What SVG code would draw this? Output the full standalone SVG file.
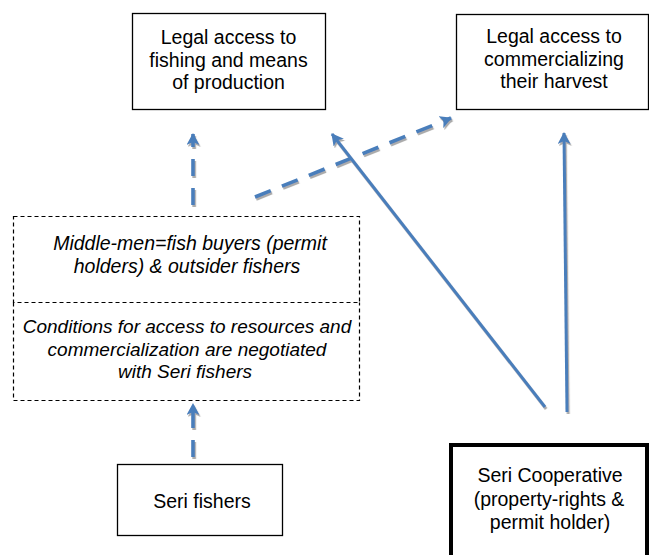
<svg xmlns="http://www.w3.org/2000/svg" width="649" height="555" viewBox="0 0 649 555">
<style>
.box{fill:#fff;stroke:#000;stroke-width:1.3}
.dbox{fill:none;stroke:#000;stroke-width:1.2;stroke-dasharray:4 3}
.t{font-family:"Liberation Sans",Arial,sans-serif;font-size:19.5px;fill:#000;text-anchor:middle}
.i{font-style:italic}
.s{font-size:19px}
.c{fill:none;stroke:#4a7ebb;stroke-width:3}
.d{stroke-width:3.6;stroke-dasharray:17 12}
</style>
<defs>
<marker id="ah" markerUnits="userSpaceOnUse" markerWidth="13" markerHeight="13" refX="11" refY="6.5" orient="auto">
<path d="M0,0 L12,6.5 L0,13 L3,6.5 z" fill="#4a7ebb"/>
</marker>
<filter id="sh" x="-20%" y="-20%" width="140%" height="140%">
<feDropShadow dx="1.2" dy="2" stdDeviation="0.6" flood-color="#888" flood-opacity="0.7"/>
</filter>
</defs>
<rect width="649" height="555" fill="#fff"/>
<g id="legal-fishing">
<rect class="box" x="132.5" y="13.5" width="193" height="96"/>
<text class="t" x="228.5" y="44">Legal access to</text>
<text class="t" x="228.5" y="66.5">fishing and means</text>
<text class="t" x="228.5" y="89">of production</text>
</g>
<g id="legal-commercial">
<rect class="box" x="456.5" y="14.5" width="192" height="95"/>
<text class="t" x="554" y="43">Legal access to</text>
<text class="t" x="554" y="65.5">commercializing</text>
<text class="t" x="554" y="88">their harvest</text>
</g>
<g id="middlemen">
<rect class="dbox" x="13.5" y="216.5" width="346" height="86"/>
<text class="t i" x="190" y="250">Middle-men=fish buyers (permit</text>
<text class="t i" x="187" y="273">holders) &amp; outsider fishers</text>
</g>
<g id="conditions">
<path class="dbox" d="M13.5,302.5 V400.5 H359.5 V302.5"/>
<text class="t i s" x="187" y="333">Conditions for access to resources and</text>
<text class="t i s" x="187" y="356">commercialization are negotiated</text>
<text class="t i s" x="185" y="378">with Seri fishers</text>
</g>
<g id="seri-fishers">
<rect class="box" x="117.5" y="464.5" width="165" height="71"/>
<text class="t" x="202" y="508">Seri fishers</text>
</g>
<g id="seri-coop">
<rect x="451" y="445" width="196" height="130" fill="#fff" stroke="#000" stroke-width="4"/>
<text class="t" x="550" y="482">Seri Cooperative</text>
<text class="t" x="549" y="506">(property-rights &amp;</text>
<text class="t" x="550" y="529">permit holder)</text>
</g>
<g id="connectors" filter="url(#sh)">
<path class="c d" d="M193,205 L193,134" marker-end="url(#ah)"/>
<path class="c d" d="M193,457 L193,404" marker-end="url(#ah)"/>
<path class="c d" d="M255,197 L451,118" marker-end="url(#ah)"/>
<path class="c" d="M545,407 L332,134" marker-end="url(#ah)"/>
<path class="c" d="M567,412 L564,133" marker-end="url(#ah)"/>
</g>
</svg>
